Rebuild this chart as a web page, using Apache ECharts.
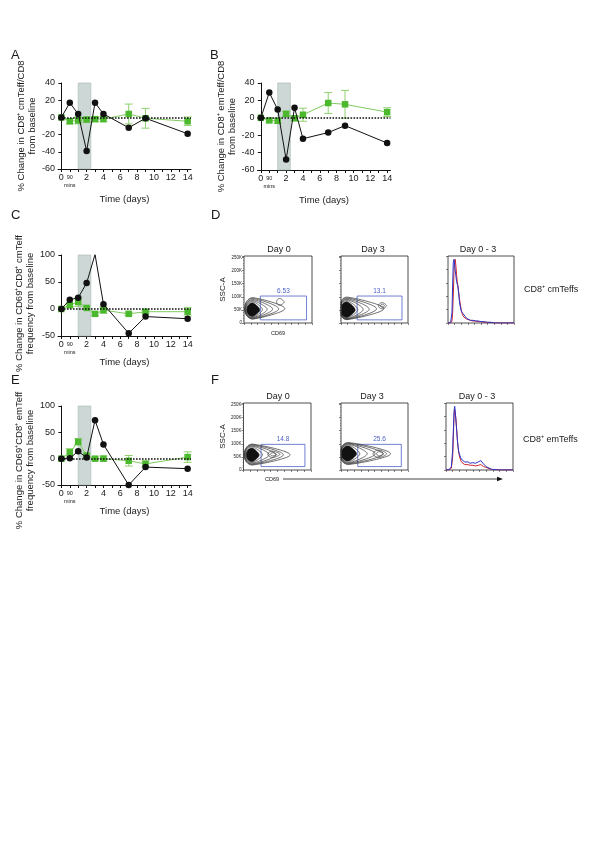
<!DOCTYPE html>
<html><head><meta charset="utf-8">
<script src="https://cdn.jsdelivr.net/npm/echarts@6/dist/echarts.min.js"></script>
<style>html,body{margin:0;padding:0;background:#fff}#c{width:596px;height:842px}</style>
</head><body><div id="c"></div>
<script>
// ---------- time axis (plotted positions; 90 min sits one slot after 0) ----------
const timeLabels = ['0', '90 min', '1', '2', '3', '4', '7', '9', '14'];
const timePos = [0, 1, 2, 3, 4, 5, 8, 10, 15];
const tickPos = [0, 1, 3, 5, 7, 9, 11, 13, 15];
const tickText = ['0', '90', '2', '4', '6', '8', '10', '12', '14'];
const minorTickPos = [0, 1, 2, 3, 4, 5, 6, 7, 8, 9, 10, 11, 12, 13, 14, 15];
const shadeWindow = [2, 3.5];

// ---------- panel A: CD8+ cmTeff/CD8 ----------
const aBlack = [0, 17, 4, -39, 17, 4, -12, -1, -19];
const aGreen = [0, -4.5, -3.5, -2.5, -2, -2, 4, -1, -4.5];
const aGreenErr = [0, 3, 4, 3, 3, 3, 11.5, 11.5, 5];
// ---------- panel B: CD8+ emTeff/CD8 ----------
const bBlack = [0, 29, 9.5, -48, 11.5, -24, -17, -9, -29];
const bGreen = [0, -3, -3.5, 4.5, -0.5, 3.5, 17, 15.5, 6.5];
const bGreenErr = [0, 2, 3, 3, 3, 7.5, 12, 16, 5];
// ---------- panel C: CD69+CD8+ cmTeff ----------
const cBlack = [0, 17, 21, 48, 101, 9, -45, -14, -18];
const cGreen = [0, 7, 13, 2, -9, -2, -9, -5, -5];
const cGreenErr = [0, 3, 8, 3, 3, 6, 3, 3, 8];
// ---------- panel E: CD69+CD8+ emTeff ----------
const eBlack = [0, 1, 14, 2, 73, 27, -50, -16, -19];
const eGreen = [0, 12, 32, 6, 0, 0, -4, -10, 3];
const eGreenErr = [0, 7, 6, 3, 3, 5, 10, 6, 10];

// ---------- flow panels D / F : contour levels [cx, cy(K), rxLeft, rxRight, ryBottom(K), ryTop(K), filled] ----------
const contD0 = [[13, 50, 9, 10, 25, 27, 1], [13, 51, 10, 14, 29, 31, 0], [13, 52, 11, 21, 32, 34, 0], [13, 53, 11, 29, 35, 37, 0], [13, 54, 12, 38, 38, 40, 0], [13, 55, 12, 47, 40, 42, 0], [53, 80, 5, 6, 12, 14, 0]];
const contD3 = [[9, 50, 10, 12, 29, 31, 1], [9, 51, 11, 16, 33, 35, 0], [9, 52, 11, 24, 36, 38, 0], [9, 53, 11, 33, 38, 40, 0], [9, 54, 12, 44, 40, 42, 0], [9, 55, 12, 55, 42, 44, 0], [62, 66, 6, 6, 12, 12, 0], [62, 66, 3, 3, 6, 6, 0]];
const contF0 = [[13, 57, 9, 10, 25, 27, 1], [13, 58, 10, 15, 29, 31, 0], [13, 58, 11, 25, 32, 34, 0], [13, 58, 11, 35, 35, 37, 0], [13, 58, 12, 46, 37, 39, 0], [13, 58, 12, 56, 39, 41, 0], [44, 60, 8, 10, 12, 12, 0], [44, 60, 4, 5, 6, 6, 0]];
const contF3 = [[11, 62, 11, 12, 28, 30, 1], [11, 62, 12, 17, 32, 34, 0], [11, 62, 12, 28, 35, 37, 0], [11, 62, 12, 40, 37, 39, 0], [11, 62, 13, 52, 39, 41, 0], [11, 62, 13, 63, 41, 43, 0], [58, 62, 10, 10, 14, 14, 0], [58, 62, 5, 5, 8, 8, 0]];
// gates [x0, y0(K), x1, y1(K)] and their percentages
const gateD0 = [24, 12, 92, 103], gateD3 = [24, 12, 91, 103], gateF0 = [26, 13, 91, 98], gateF3 = [25, 13, 90, 98];
const gatePct = ['6.53', '13.1', '14.8', '25.6'];
// histograms (CD69, % of max)
const dHistX = [0, 4, 6, 7, 8, 9, 10, 11, 12, 13, 14, 15, 16, 17, 18, 20, 22, 24, 26, 28, 30, 34, 38, 42, 46, 50, 55, 60, 65, 70, 80, 100];
const dBlue = [0, 1, 15, 55, 90, 95, 88, 78, 70, 62, 58, 55, 45, 35, 27, 18, 15, 14, 10, 7, 6, 4, 4, 3, 3, 2, 2, 1, 1, 0, 0, 0];
const dRed = [0, 0, 3, 15, 40, 75, 92, 95, 85, 72, 62, 55, 48, 40, 32, 20, 12, 9, 7, 6, 5, 4, 3, 3, 2, 2, 1, 1, 1, 0, 0, 0];
const fHistX = [0, 5, 8, 10, 11, 12, 13, 14, 15, 16, 17, 18, 19, 20, 22, 24, 26, 28, 30, 33, 36, 40, 44, 48, 52, 56, 60, 64, 68, 80, 100];
const fBlue = [0, 1, 5, 30, 60, 88, 95, 85, 70, 58, 45, 35, 28, 24, 18, 15, 13, 12, 11, 12, 10, 11, 10, 12, 14, 9, 5, 3, 1, 0, 0];
const fRed = [0, 0, 3, 20, 50, 80, 90, 88, 75, 60, 45, 34, 26, 21, 14, 11, 9, 8, 7, 8, 7, 7, 6, 7, 8, 5, 4, 2, 1, 0, 0];

const FF = "'Liberation Sans', Arial, sans-serif";
const TXT = '#1a1a1a';

const chart = echarts.init(document.getElementById('c'), null, {renderer: 'canvas'});

const grids = [
  {left: 58, top: 83, width: 133, height: 86},      // 0 A
  {left: 257.5, top: 83, width: 133, height: 87},   // 1 B
  {left: 58, top: 255, width: 133, height: 81},     // 2 C
  {left: 58, top: 406, width: 133, height: 79},     // 3 E
  {left: 244, top: 256, width: 68, height: 67},     // 4 D day0
  {left: 341, top: 256, width: 67, height: 67},     // 5 D day3
  {left: 448, top: 256, width: 66, height: 67},     // 6 D hist
  {left: 243.5, top: 403, width: 67.5, height: 67}, // 7 F day0
  {left: 341, top: 403, width: 67, height: 67},     // 8 F day3
  {left: 446, top: 403, width: 67, height: 67}      // 9 F hist
];
grids.forEach((g, i) => { if (i >= 4) { g.show = true; g.borderColor = '#222'; g.borderWidth = 0.8; } });

function lineX(gi, gap) {
  return {
    gridIndex: gi, type: 'value', min: -0.4, max: 15.4,
    axisLine: {show: true, onZero: false, lineStyle: {color: '#111', width: 1}},
    axisTick: {show: true, customValues: minorTickPos, length: 3, lineStyle: {color: '#111', width: 1}},
    axisLabel: {
      customValues: tickPos, fontSize: 9, color: TXT, margin: 4, fontFamily: FF,
      formatter: v => { const t = tickText[tickPos.indexOf(v)]; return v === 1 ? '{s|' + t + '}\n{m|mins}' : t; },
      rich: {s: {fontSize: 5.5, lineHeight: 8, fontFamily: FF, color: TXT}, m: {fontSize: 5.5, lineHeight: 9, fontFamily: FF, color: TXT}}
    },
    splitLine: {show: false},
    name: 'Time (days)', nameLocation: 'middle', nameGap: gap,
    nameTextStyle: {fontSize: 9.5, color: TXT, fontFamily: FF}
  };
}
function lineY(gi, min, max, interval, name, gap, pad) {
  return {
    gridIndex: gi, type: 'value', min, max, interval,
    axisLine: {show: true, lineStyle: {color: '#111', width: 1}},
    axisTick: {show: true, length: 3, lineStyle: {color: '#111', width: 1}},
    axisLabel: {fontSize: 9, color: TXT, margin: 3, fontFamily: FF},
    splitLine: {show: false},
    name, nameLocation: 'middle', nameGap: gap,
    nameTextStyle: {fontSize: 9.5, color: TXT, fontFamily: FF, lineHeight: 11, padding: pad}
  };
}
function flowX(gi, name) {
  const o = {
    gridIndex: gi, type: 'value', min: 0, max: 100, interval: 10,
    axisLine: {show: false}, axisTick: {show: true, length: 2, lineStyle: {color: '#333', width: 0.6}},
    axisLabel: {show: false}, splitLine: {show: false}
  };
  if (name) { o.name = name; o.nameLocation = 'middle'; o.nameGap = 7; o.nameTextStyle = {fontSize: 5.5, color: TXT, fontFamily: FF}; }
  return o;
}
function flowY(gi, labels, hist) {
  const o = {
    gridIndex: gi, type: 'value', min: 0, max: hist ? 100 : 256000, interval: hist ? 20 : 50000,
    axisLine: {show: false}, axisTick: {show: true, length: 2, lineStyle: {color: '#333', width: 0.6}},
    minorTick: {show: !hist, splitNumber: 5, length: 1, lineStyle: {color: '#555', width: 0.5}},
    axisLabel: {show: labels, fontSize: 4.5, color: TXT, margin: 2, fontFamily: FF, formatter: v => v === 0 ? '0' : (v / 1000) + 'K'},
    splitLine: {show: false}
  };
  if (labels) { o.name = 'SSC-A'; o.nameLocation = 'middle'; o.nameGap = 17; o.nameTextStyle = {fontSize: 8, color: TXT, fontFamily: FF}; }
  return o;
}

const xAxis = [lineX(0, 25), lineX(1, 25), lineX(2, 21), lineX(3, 21),
  flowX(4, 'CD69'), flowX(5), flowX(6), flowX(7), flowX(8), flowX(9)];
const yAxis = [
  lineY(0, -60, 40, 20, '% Change in CD8\u207A cmTeff/CD8\nfrom baseline', 18, [0, 0, 0, 0]),
  lineY(1, -60, 40, 20, '% Change in CD8\u207A emTeff/CD8\nfrom baseline', 18, [0, 0, 0, 0]),
  lineY(2, -50, 100, 50, '% Change in CD69\u207ACD8\u207A cmTeff\nfrequency from baseline', 21, [0, 16, 0, 0]),
  lineY(3, -50, 100, 50, '% Change in CD69\u207ACD8\u207A emTeff\nfrequency from baseline', 21, [0, 30, 0, 0]),
  flowY(4, true, false), flowY(5, false, false), flowY(6, false, true),
  flowY(7, true, false), flowY(8, false, false), flowY(9, false, true)
];

function errRender(params, api) {
  const x = api.value(0), y = api.value(1), e = api.value(2);
  if (!e) return null;
  const top = api.coord([x, y + e]), bot = api.coord([x, y - e]);
  const cap = 4, st = {stroke: '#8fd16d', lineWidth: 1};
  return {type: 'group', children: [
    {type: 'line', shape: {x1: top[0], y1: top[1], x2: bot[0], y2: bot[1]}, style: st},
    {type: 'line', shape: {x1: top[0] - cap, y1: top[1], x2: top[0] + cap, y2: top[1]}, style: st},
    {type: 'line', shape: {x1: bot[0] - cap, y1: bot[1], x2: bot[0] + cap, y2: bot[1]}, style: st}
  ]};
}
function contourRender(params, api) {
  const cx = api.value(0), cy = api.value(1) * 1000, rxL = api.value(2), rxR = api.value(3);
  const ryB = api.value(4) * 1000, ryT = api.value(5) * 1000, filled = api.value(6);
  const pts = [];
  for (let k = 0; k < 60; k++) {
    const t = k / 60 * 2 * Math.PI, c = Math.cos(t), s = Math.sin(t);
    const rx = c >= 0 ? rxR : rxL;
    let ry = s >= 0 ? ryT : ryB;
    if (c > 0) ry *= (1 - 0.45 * c);
    let x = cx + rx * c, y = cy + ry * s;
    if (x < 0.5) x = 0.5;
    if (y < 1500) y = 1500;
    pts.push(api.coord([x, y]));
  }
  return {type: 'polygon', shape: {points: pts}, style: {fill: filled ? '#111' : 'none', stroke: filled ? '#111' : '#333', lineWidth: filled ? 0.8 : 0.7}};
}

const series = [];
function linePanel(gi, black, green, gerr, ymin, ymax) {
  series.push({
    type: 'line', xAxisIndex: gi, yAxisIndex: gi, data: [], z: 1, silent: true,
    markArea: {silent: true, itemStyle: {color: '#cdd8d6', borderColor: '#a5b5b2', borderWidth: 0.6},
      data: [[{xAxis: shadeWindow[0], yAxis: ymax}, {xAxis: shadeWindow[1], yAxis: ymin}]]},
    markLine: {silent: true, symbol: 'none', label: {show: false},
      lineStyle: {type: [1.6, 1.4], color: '#111', width: 1.6}, data: [{yAxis: 0}]}
  });
  series.push({type: 'custom', xAxisIndex: gi, yAxisIndex: gi, z: 2, renderItem: errRender,
    encode: {x: 0, y: 1}, data: timePos.map((p, i) => [p, green[i], gerr[i]])});
  series.push({type: 'line', xAxisIndex: gi, yAxisIndex: gi, z: 3, symbol: 'rect', symbolSize: 6.5,
    itemStyle: {color: '#4cb82e'}, lineStyle: {color: '#7fcb5f', width: 1},
    data: timePos.map((p, i) => [p, green[i]])});
  series.push({type: 'line', xAxisIndex: gi, yAxisIndex: gi, z: 4, symbol: 'circle', symbolSize: 6.5,
    itemStyle: {color: '#111'}, lineStyle: {color: '#111', width: 1},
    data: timePos.map((p, i) => [p, black[i]])});
}
linePanel(0, aBlack, aGreen, aGreenErr, -60, 40);
linePanel(1, bBlack, bGreen, bGreenErr, -60, 40);
linePanel(2, cBlack, cGreen, cGreenErr, -50, 100);
linePanel(3, eBlack, eGreen, eGreenErr, -50, 100);

function flowPanel(gi, cont, gate, pct) {
  series.push({type: 'custom', xAxisIndex: gi, yAxisIndex: gi, renderItem: contourRender, encode: {x: 0, y: 1}, data: cont, z: 2});
  series.push({type: 'line', xAxisIndex: gi, yAxisIndex: gi, data: [], z: 3, silent: true,
    markArea: {silent: true, itemStyle: {color: 'rgba(0,0,0,0)', borderColor: '#4b5fc8', borderWidth: 0.8},
      label: {show: true, position: 'top', distance: 1, formatter: pct, color: '#4b5fc8', fontSize: 6.5, fontFamily: FF},
      data: [[{xAxis: gate[0], yAxis: gate[3] * 1000}, {xAxis: gate[2], yAxis: gate[1] * 1000}]]}});
}
flowPanel(4, contD0, gateD0, gatePct[0]);
flowPanel(5, contD3, gateD3, gatePct[1]);
flowPanel(7, contF0, gateF0, gatePct[2]);
flowPanel(8, contF3, gateF3, gatePct[3]);

function histPanel(gi, xs, blue, red) {
  series.push({type: 'line', xAxisIndex: gi, yAxisIndex: gi, showSymbol: false, symbol: 'none', z: 2,
    lineStyle: {color: '#d2262b', width: 1}, data: xs.map((x, i) => [x, red[i]])});
  series.push({type: 'line', xAxisIndex: gi, yAxisIndex: gi, showSymbol: false, symbol: 'none', z: 3,
    lineStyle: {color: '#2b35c8', width: 1}, data: xs.map((x, i) => [x, blue[i]])});
}
histPanel(6, dHistX, dBlue, dRed);
histPanel(9, fHistX, fBlue, fRed);

function txt(text, x, y, size, align) {
  return {type: 'text', x, y, silent: true, style: {text, fill: TXT, font: size + 'px ' + FF,
    align: align || 'center', textAlign: align || 'center', verticalAlign: 'middle', textVerticalAlign: 'middle'}};
}
const graphic = [
  txt('A', 11, 55, 13, 'left'), txt('B', 210, 55, 13, 'left'),
  txt('C', 11, 215, 13, 'left'), txt('D', 211, 215, 13, 'left'),
  txt('E', 11, 380, 13, 'left'), txt('F', 211, 380, 13, 'left'),
  txt('Day 0', 279, 250, 9), txt('Day 3', 373, 250, 9), txt('Day 0 - 3', 478, 250, 9),
  txt('Day 0', 278, 397, 9), txt('Day 3', 372, 397, 9), txt('Day 0 - 3', 477, 397, 9),
  txt('CD8\u207A cmTeffs', 524, 290, 9, 'left'), txt('CD8\u207A emTeffs', 523, 440, 9, 'left'),
  txt('CD69', 272, 479, 5.5),
  {type: 'line', silent: true, shape: {x1: 283, y1: 479, x2: 498, y2: 479}, style: {stroke: '#111', lineWidth: 0.8}},
  {type: 'polygon', silent: true, shape: {points: [[497, 476.8], [503, 479], [497, 481.2]]}, style: {fill: '#111'}}
];

chart.setOption({animation: false, backgroundColor: '#fff', grid: grids, xAxis, yAxis, series, graphic});
</script></body></html>
